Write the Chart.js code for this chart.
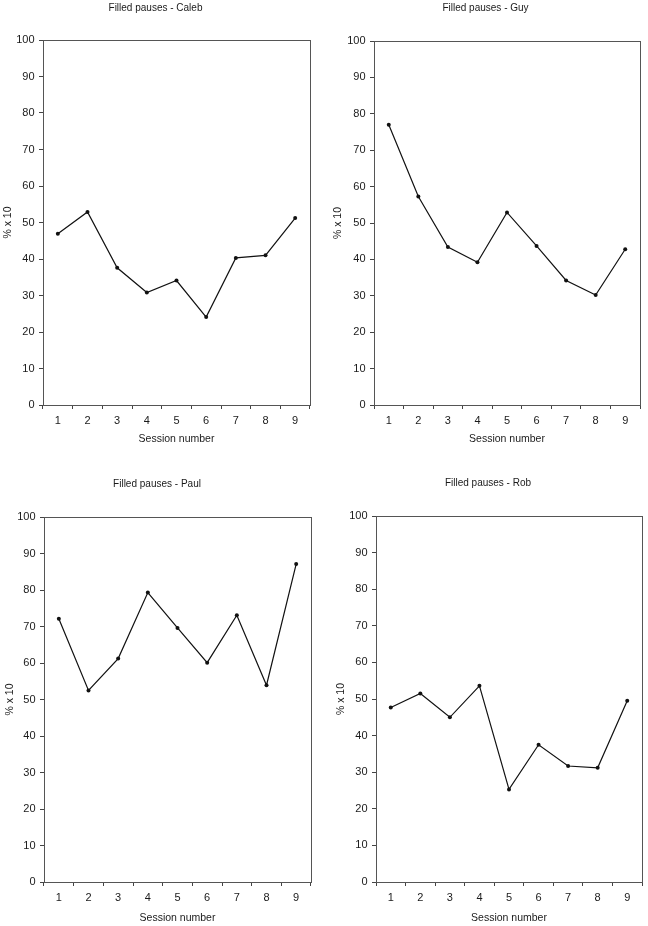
<!DOCTYPE html>
<html>
<head>
<meta charset="utf-8">
<script src="https://cdn.jsdelivr.net/npm/chart.js@4.4.1/dist/chart.umd.min.js"></script>
<style>
  html, body { margin: 0; padding: 0; background: #fff; overflow: hidden; width: 648px; height: 926px; }
  canvas { position: absolute; }
</style>
</head>
<body>
<script>
// session numbers on the x axis
var sessions = ['1', '2', '3', '4', '5', '6', '7', '8', '9'];

// filled pauses, % x 10, per speaker
var caleb = [46.9, 52.9, 37.6, 30.8, 34.1, 24.1, 40.3, 41.0, 51.2];
var guy   = [77.0, 57.3, 43.4, 39.2, 52.9, 43.7, 34.2, 30.2, 42.8];
var paul  = [72.1, 52.5, 61.2, 79.3, 69.6, 60.1, 73.1, 53.9, 87.1];
var rob   = [47.7, 51.5, 45.0, 53.6, 25.3, 37.5, 31.7, 31.2, 49.5];

var yMin = 0, yMax = 100, yStep = 10;

var FONT = '"Liberation Sans", Arial, sans-serif';
var INK = '#1a1a1a';

// box round the plot area (top and right edges too)
var frame = {
  id: 'frame',
  afterDraw: function(chart) {
    var a = chart.chartArea, c = chart.ctx;
    c.save();
    c.strokeStyle = '#555';
    c.lineWidth = 1;
    c.strokeRect(Math.round(a.left) + 0.5, Math.round(a.top) + 0.5,
                 Math.round(a.right - a.left), Math.round(a.bottom - a.top));
    c.restore();
  }
};

// p: where things sit on the page
function panel(name, values, p) {
  var L = Math.round(p.yTitleX - 7);
  var W = Math.round(2 * (p.titleX - L));
  var H = p.height;
  var cv = document.createElement('canvas');
  cv.width = W;
  cv.height = H;
  cv.style.left = L + 'px';
  cv.style.top = p.top + 'px';
  document.body.appendChild(cv);

  var padTop = Math.round(p.titleY - 6 - p.top);
  var padBottom = p.plotT - p.top - padTop - 12;

  new Chart(cv, {
    type: 'line',
    data: {
      labels: sessions,
      datasets: [{
        data: values,
        borderColor: '#111',
        borderWidth: 1.2,
        pointRadius: 2,
        pointBackgroundColor: '#111',
        pointBorderColor: '#111',
        pointBorderWidth: 0,
        tension: 0
      }]
    },
    options: {
      responsive: false,
      animation: false,
      devicePixelRatio: 1,
      layout: { padding: { left: 0, top: 0, bottom: 0, right: L + W - p.plotR } },
      plugins: {
        legend: { display: false },
        tooltip: { enabled: false },
        title: {
          display: true,
          text: 'Filled pauses - ' + name,
          color: INK,
          font: { family: FONT, size: 10, weight: 'normal' },
          padding: { top: padTop, bottom: padBottom }
        }
      },
      scales: {
        x: {
          type: 'category',
          offset: true,
          grid: { offset: true, drawOnChartArea: false, drawTicks: true, tickLength: 4, color: '#444' },
          border: { color: '#444' },
          ticks: { color: INK, padding: 5, font: { family: FONT, size: 11 }, maxRotation: 0 },
          title: {
            display: true, text: 'Session number', color: INK,
            font: { family: FONT, size: 10.5 },
            padding: { top: 0, bottom: p.top + H - p.axisTitleY - 6.3 }
          },
          afterFit: function(s) { s.height = p.top + H - p.plotB; }
        },
        y: {
          min: yMin, max: yMax,
          grid: { drawOnChartArea: false, drawTicks: true, tickLength: 4, color: '#444' },
          border: { color: '#444' },
          ticks: { stepSize: yStep, color: INK, padding: 4.5, font: { family: FONT, size: 11 } },
          title: {
            display: true, text: '% x 10', color: INK,
            font: { family: FONT, size: 10.5 },
            padding: { top: 1, bottom: 0 }
          },
          afterFit: function(s) { s.width = p.plotL - L; }
        }
      }
    },
    plugins: [frame]
  });
}

panel('Caleb', caleb, { top: 0, height: 460, yTitleX: 8, titleX: 165, titleY: 8,
  plotL: 43, plotR: 310, plotT: 40, plotB: 405, axisTitleY: 439 });
panel('Guy', guy, { top: 0, height: 460, yTitleX: 338, titleX: 493, titleY: 8,
  plotL: 374, plotR: 640, plotT: 41, plotB: 405, axisTitleY: 439 });
panel('Paul', paul, { top: 460, height: 466, yTitleX: 10, titleX: 167.5, titleY: 484,
  plotL: 44, plotR: 311, plotT: 517, plotB: 882, axisTitleY: 918.3 });
panel('Rob', rob, { top: 460, height: 466, yTitleX: 341, titleX: 500.7, titleY: 483.3,
  plotL: 376, plotR: 642, plotT: 516, plotB: 882, axisTitleY: 918.3 });
</script>
</body>
</html>
